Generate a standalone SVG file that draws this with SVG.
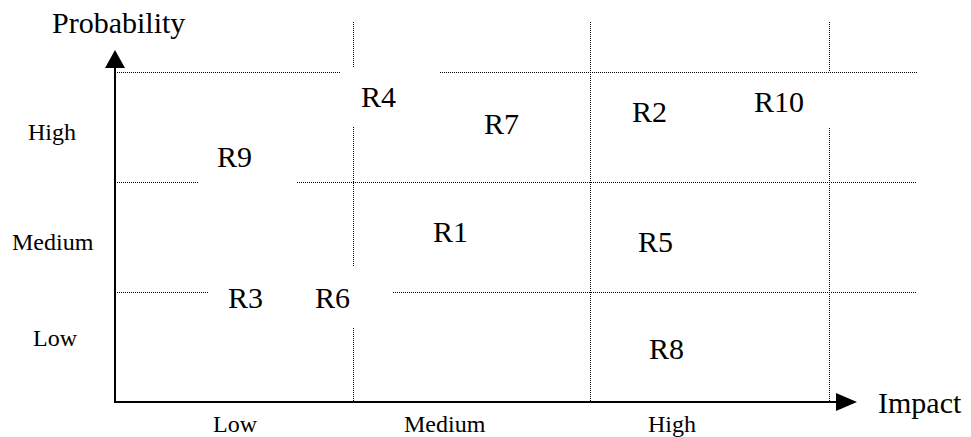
<svg xmlns="http://www.w3.org/2000/svg" width="971" height="437" viewBox="0 0 971 437">
  <style>
    .grid { stroke: #000; stroke-width: 1; stroke-dasharray: 1 1; fill: none; }
    .axis { stroke: #000; stroke-width: 2; fill: none; }
    .head { fill: #000; stroke: none; }
    text { font-family: "Liberation Serif", "Times New Roman", serif; fill: #000; }
    .title { font-size: 30px; }
    .risk { font-size: 30px; }
    .level { font-size: 24px; }
  </style>
  <rect width="971" height="437" fill="#fff"/>

  <!-- dotted grid, broken where risk labels sit -->
  <g id="grid" class="grid">
    <path d="M115 72.5H340M440 72.5H917"/>
    <path d="M115 182.5H198M297 182.5H917"/>
    <path d="M115 292.5H208M393 292.5H917"/>
    <path d="M353.5 22V68M353.5 127V267M353.5 328V402"/>
    <path d="M590.5 22V402"/>
    <path d="M829.5 22V72M829.5 128V402"/>
  </g>

  <!-- axes -->
  <g id="connectors">
    <g id="axis-probability">
      <line class="axis" x1="115" y1="402" x2="115" y2="66"/>
      <polygon class="head" points="105,68 125,68 115,50"/>
    </g>
    <g id="axis-impact">
      <line class="axis" x1="114" y1="402" x2="838" y2="402"/>
      <polygon class="head" points="836,393 857,402 836,411"/>
    </g>
  </g>

  <!-- axis titles -->
  <g id="title-probability"><text class="title" x="52" y="33">Probability</text></g>
  <g id="title-impact"><text class="title" x="878" y="413">Impact</text></g>

  <!-- probability levels -->
  <g id="prob-high"><text class="level" x="28" y="140">High</text></g>
  <g id="prob-medium"><text class="level" x="12" y="250">Medium</text></g>
  <g id="prob-low"><text class="level" x="33" y="346">Low</text></g>

  <!-- impact levels -->
  <g id="impact-low"><text class="level" x="213" y="432">Low</text></g>
  <g id="impact-medium"><text class="level" x="404" y="432">Medium</text></g>
  <g id="impact-high"><text class="level" x="648" y="432">High</text></g>

  <!-- risks -->
  <g id="R1"><text class="risk" x="433" y="242">R1</text></g>
  <g id="R2"><text class="risk" x="632" y="122">R2</text></g>
  <g id="R3"><text class="risk" x="228" y="308">R3</text></g>
  <g id="R4"><text class="risk" x="361" y="107">R4</text></g>
  <g id="R5"><text class="risk" x="638" y="252">R5</text></g>
  <g id="R6"><text class="risk" x="315" y="308">R6</text></g>
  <g id="R7"><text class="risk" x="484" y="134">R7</text></g>
  <g id="R8"><text class="risk" x="649" y="359">R8</text></g>
  <g id="R9"><text class="risk" x="217" y="167">R9</text></g>
  <g id="R10"><text class="risk" x="754" y="112">R10</text></g>
</svg>
